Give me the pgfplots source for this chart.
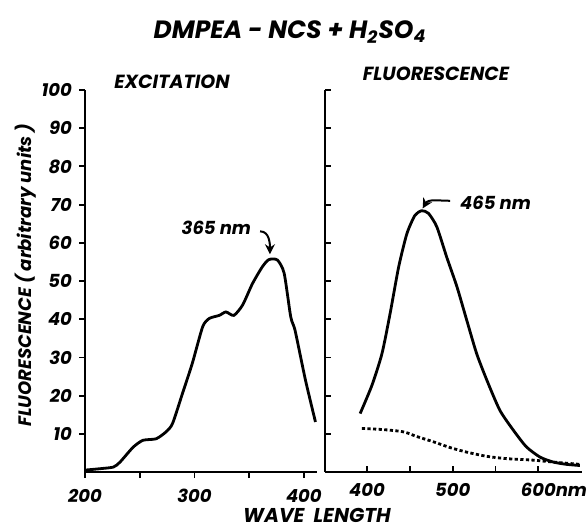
\documentclass[border=0pt]{standalone}
\usepackage{fontspec}
\setmainfont{Poppins}
\usepackage{pgfplots}
\pgfplotsset{compat=1.18}
\usetikzlibrary{arrows.meta}

\pgfplotstableread{
nm val
200 0.5
215 0.9
226 1.3
232 2.6
244 6.5
253 8.3
265 8.7
274 10.5
280 12.7
289 20.5
298 28.4
307.5 38
313.6 40.2
322.7 41
328.8 41.9
336 41
344 43.7
353 49.3
362 53.7
368 55.6
375.8 55.5
382 52
388 40.6
392 37
401.5 24
410.6 13.1
}\excitation

\pgfplotstableread{
nm val
392 15.3
405.8 22.7
417.5 31
427 41.5
437 53.7
446.6 62.4
456 67.2
464 68.4
471.8 67.7
481.5 64.2
493 56.3
505 48.5
516.5 39.7
528 31
540 24
555 16.2
571 10.9
586 6.6
602 3.9
617.5 2.6
633 2.0
648.5 1.7
}\fluor

\pgfplotstableread{
nm val
394 11.4
419 11.1
442.7 10.5
458 9.3
477.7 7.9
497 6.4
516.5 5.2
540 4.1
563 3.5
594 3.1
617.5 2.6
648.5 2.0
}\blank

\begin{document}
\begin{tikzpicture}[font=\bfseries\itshape]
\path (0,0) rectangle (293.5pt,263.5pt);
\pgfplotsset{
  every axis/.append style={
    scale only axis, height=191pt,
    axis lines=left, axis line style={-, line width=1pt},
    ymin=0, ymax=100,
    tick style={black, line width=0.9pt},
    major tick length=3pt, minor tick length=2pt,
    tick label style={font=\fontsize{9}{11}\bfseries\itshape},
    /pgf/number format/assume math mode=true,
    clip=false,
  }
}
\begin{axis}[
  at={(42.5pt,27.5pt)}, anchor=south west, width=116pt,
  xmin=200, xmax=412,
  xtick={200,250,...,400},
  xticklabels={200,,300,,400},
  ytick={10,20,...,100},
  tick align=outside,
  xticklabel style={yshift=-2pt},
]
\addplot[line width=1.4pt, smooth, tension=0.4] table[x=nm,y=val] {\excitation};
\node[font=\fontsize{9}{11}\bfseries\itshape] at (axis cs:320,64) {365 nm};
\draw[line width=1pt, -{Stealth[length=5pt,width=5pt]}] (axis cs:360,63) to[out=0,in=90] (axis cs:369,57);
\end{axis}

\begin{axis}[
  at={(162.5pt,27.5pt)}, anchor=south west, width=128.5pt,
  xmin=351, xmax=651,
  xtick={400,450,...,600},
  xticklabels={400,,500,,600\rlap{nm}},
  ytick={10,20,...,100},
  yticklabels={},
  tick align=inside,
  xticklabel style={yshift=-2pt},
]
\addplot[line width=1.4pt, smooth, tension=0.4] table[x=nm,y=val] {\fluor};
\addplot[line width=1.4pt, dash pattern=on 1.6pt off 1.2pt, smooth] table[x=nm,y=val] {\blank};
\node[font=\fontsize{9}{11}\bfseries\itshape] at (axis cs:550,70.4) {465 nm};
\draw[line width=1pt, -{Stealth[length=5pt,width=5pt]}] (axis cs:497,71) to[out=180,in=60] (axis cs:465,69);
\end{axis}

\node[font=\fontsize{12.5}{14}\bfseries\itshape] at (145pt,247.5pt) {DMPEA - NCS + H\textsubscript{2}SO\textsubscript{4}};
\node[font=\fontsize{9.5}{12}\bfseries\itshape] at (86pt,222.5pt) {EXCITATION};
\node[font=\fontsize{9.5}{12}\bfseries\itshape] at (218pt,226.5pt) {FLUORESCENCE};
\node[font=\fontsize{9}{11}\bfseries\itshape, rotate=90] at (13pt,126pt) {FLUORESCENCE ( arbitrary units )};
\node[font=\fontsize{10}{12}\bfseries\itshape] at (158.5pt,6pt) {WAVE \ LENGTH};
\end{tikzpicture}
\end{document}
